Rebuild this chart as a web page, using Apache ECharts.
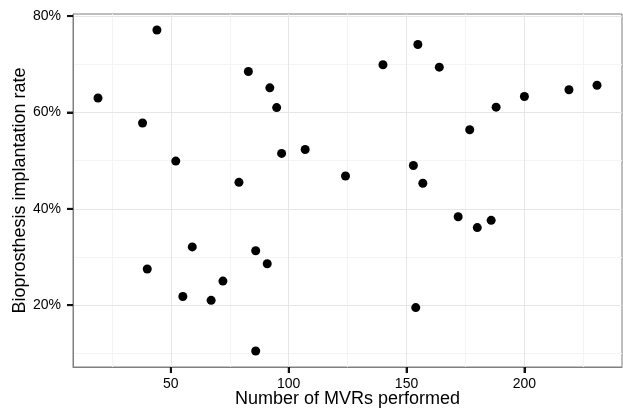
<!DOCTYPE html>
<html>
<head>
<meta charset="utf-8">
<script src="https://cdn.jsdelivr.net/npm/echarts@6/dist/echarts.min.js"></script>
<style>
html,body{margin:0;padding:0;background:#fff;}
#chart{width:623px;height:409px;}
</style>
</head>
<body>
<div id="chart"></div>
<script>
// Number of MVRs performed
var mvrs = [19.1, 44.1, 38.0, 52.1, 82.9, 92.0, 94.9, 97.0, 107.0, 78.9,
            124.1, 140.0, 154.8, 163.9, 152.9, 156.9, 176.8, 188.0, 200.0, 218.9, 230.8,
            40.0, 59.1, 55.1, 67.1, 72.1, 86.0, 90.9, 86.0,
            171.9, 180.0, 185.9, 153.9];
// Bioprosthesis implantation rate (%)
var rates = [63.0, 77.1, 57.8, 49.9, 68.5, 65.1, 61.0, 51.5, 52.3, 45.5,
             46.8, 69.9, 74.1, 69.4, 49.0, 45.3, 56.4, 61.1, 63.3, 64.7, 65.65,
             27.5, 32.1, 21.8, 21.0, 25.0, 31.3, 28.6, 10.5,
             38.35, 36.1, 37.6, 19.5];
var xMajor = [50, 100, 150, 200];
var xMinor = [25, 75, 125, 175, 225];
var yMajor = [20, 40, 60, 80];
var yMinor = [10, 30, 50, 70];

var points = mvrs.map(function (v, i) { return [v, rates[i]]; });

var xMin = 8.5, xMax = 241.4, yMin = 7.17, yMax = 80.43;
var font = 'Liberation Sans, Arial, Helvetica, sans-serif';
var TICK = 6;

var xTickData = xMajor.map(function (v) { return [v, yMin]; });
var yTickData = yMajor.map(function (v) { return [xMin, v]; });

var chart = echarts.init(document.getElementById('chart'), null, {renderer: 'canvas'});
chart.setOption({
  animation: false,
  backgroundColor: '#ffffff',
  grid: {left: 73, top: 14, width: 549, height: 353, show: true, borderColor: '#7f7f7f', borderWidth: 1,
         backgroundColor: 'transparent', containLabel: false, outerBoundsMode: 'none'},
  xAxis: [
    {
      type: 'value', min: xMin, max: xMax, gridIndex: 0, z: 1,
      axisLine: {show: false},
      axisTick: {show: false, customValues: xMinor},
      axisLabel: {show: false, customValues: xMinor},
      splitLine: {show: true, lineStyle: {color: '#f4f4f4', width: 1}}
    },
    {
      type: 'value', min: xMin, max: xMax, gridIndex: 0, position: 'bottom', z: 2,
      name: 'Number of MVRs performed', nameLocation: 'middle', nameGap: 23, nameMoveOverlap: false,
      nameTextStyle: {fontFamily: font, fontSize: 18, color: '#000'},
      axisLine: {show: true, lineStyle: {color: '#7f7f7f', width: 1}},
      axisTick: {show: true, customValues: xMajor, length: TICK, lineStyle: {color: '#111', width: 2}},
      axisLabel: {show: true, customValues: xMajor, fontFamily: font, fontSize: 14, color: '#000', margin: 10},
      splitLine: {show: true, lineStyle: {color: '#e6e6e6', width: 1}}
    }
  ],
  yAxis: [
    {
      type: 'value', min: yMin, max: yMax, gridIndex: 0, z: 1,
      axisLine: {show: false},
      axisTick: {show: false, customValues: yMinor},
      axisLabel: {show: false, customValues: yMinor},
      splitLine: {show: true, lineStyle: {color: '#f4f4f4', width: 1}}
    },
    {
      type: 'value', min: yMin, max: yMax, gridIndex: 0, position: 'left', z: 2,
      name: 'Bioprosthesis implantation rate', nameLocation: 'middle', nameGap: 44, nameRotate: 90, nameMoveOverlap: false,
      nameTextStyle: {fontFamily: font, fontSize: 18, color: '#000'},
      axisLine: {show: true, lineStyle: {color: '#7f7f7f', width: 1}},
      axisTick: {show: true, customValues: yMajor, length: TICK, lineStyle: {color: '#111', width: 2}},
      axisLabel: {show: true, customValues: yMajor, fontFamily: font, fontSize: 14, color: '#000', margin: 12,
                  formatter: function (v) { return Math.round(v) + '%'; }},
      splitLine: {show: true, lineStyle: {color: '#e6e6e6', width: 1}}
    }
  ],
  series: [
    {
      type: 'scatter', xAxisIndex: 1, yAxisIndex: 1, clip: false, silent: true,
      data: xTickData, symbol: 'rect', symbolSize: [2, TICK], symbolOffset: [0, TICK / 2],
      itemStyle: {color: '#111'}, z: 10
    },
    {
      type: 'scatter', xAxisIndex: 1, yAxisIndex: 1, clip: false, silent: true,
      data: yTickData, symbol: 'rect', symbolSize: [TICK, 2], symbolOffset: [-TICK / 2, 0],
      itemStyle: {color: '#111'}, z: 10
    },
    {
      type: 'scatter', xAxisIndex: 1, yAxisIndex: 1,
      data: points, symbol: 'circle', symbolSize: 9,
      itemStyle: {color: '#000', opacity: 1},
      z: 5
    }
  ]
});
</script>
</body>
</html>
